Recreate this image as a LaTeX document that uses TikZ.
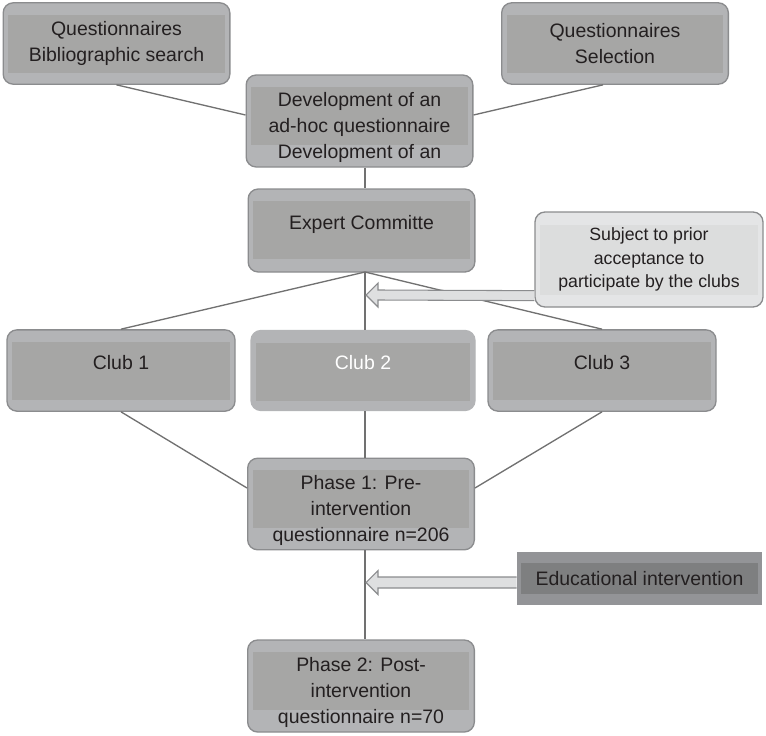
\documentclass[tikz,border=0pt]{standalone}
\usepackage{fontspec}
\setmainfont{Liberation Sans}
\usetikzlibrary{calc}

\definecolor{boxfill}{HTML}{B3B4B6}
\definecolor{bandfill}{HTML}{A6A6A5}
\definecolor{boxedge}{HTML}{8B8C8E}
\definecolor{notefill}{HTML}{E4E5E6}
\definecolor{noteband}{HTML}{DCDDDD}
\definecolor{darkfill}{HTML}{939497}
\definecolor{darkband}{HTML}{7E7F80}
\definecolor{linegray}{HTML}{717171}
\definecolor{textgray}{HTML}{231F20}
\definecolor{arrowfill}{HTML}{DEDFE0}

\newcommand{\lowstrut}{\rule{0pt}{20pt}}

\tikzset{
    banded/.style n args={4}{
        path picture={
            \fill [#1, sharp corners]
                ([xshift=#4,yshift=-#2]path picture bounding box.north west)
                rectangle
                ([xshift=-#4,yshift=-#3]path picture bounding box.north east);
        }
    },
    stage/.style={
        draw=boxedge, line width=1pt, fill=boxfill,
        rounded corners=7.5pt,
        minimum width=170pt, minimum height=61pt,
        align=center, text=textgray,
        font=\fontsize{14.6}{19}\selectfont,
        banded={bandfill}{9pt}{52.5pt}{3.75pt}
    },
    top text/.style={text depth=12pt},
    low text/.style={font=\fontsize{14.6}{19.5}\selectfont},
    note/.style={
        draw=boxedge, line width=1pt, fill=notefill,
        rounded corners=7.5pt,
        minimum width=171pt, minimum height=71.25pt,
        align=center, text=textgray,
        font=\fontsize{13.3}{17.5}\selectfont,
        banded={noteband}{9.75pt}{62.25pt}{3.75pt}
    },
    action/.style={
        fill=darkfill,
        minimum width=183.75pt, minimum height=39.75pt,
        text=textgray,
        font=\fontsize{14.6}{19}\selectfont,
        banded={darkband}{8.25pt}{31.5pt}{3pt}
    },
    link/.style={draw=linegray, line width=1pt},
    fatarrow/.style={draw=boxedge, fill=arrowfill, line width=0.8pt, line join=miter}
}

\begin{document}
\begin{tikzpicture}[x=0.75pt, y=-0.75pt]
    \useasboundingbox
        (0,0) rectangle (766,735)
        ;

    \node [stage] (qbib)
        at (116.5,43.5) {Questionnaires\\Bibliographic search}
        ;
    \node [stage] (qsel)
        at (615,43.5) {Questionnaires\\Selection}
        ;
    \node [stage, low text, minimum height=69pt] (dev)
        at (359.5,121) {\lowstrut Development of an\\ad-hoc questionnaire\\Development of an}
        ;
    \node [stage, top text, minimum height=62.25pt] (expert)
        at (361.5,230.5) {Expert Committe}
        ;
    \node [note] (subject)
        at (649,259.5) {Subject to prior\\acceptance to\\participate by the clubs}
        ;

    \node [stage, top text, minimum width=171pt] (club1)
        at (121,370.5) {Club 1}
        ;
    \node [stage, top text, draw=boxfill, text=white, minimum width=168pt, minimum height=60pt] (club2)
        at (363,370.5) {Club 2}
        ;
    \node [stage, top text, minimum width=171pt] (club3)
        at (602,370.5) {Club 3}
        ;

    \node [stage, low text, minimum height=66.75pt] (phase1)
        at (361,504) {\lowstrut Phase 1: Pre-\\intervention\\questionnaire n=206}
        ;
    \node [action] (educ)
        at (639.5,578.5) {Educational intervention}
        ;
    \node [stage, low text, minimum height=69pt] (phase2)
        at (361,686) {\lowstrut Phase 2: Post-\\intervention\\questionnaire n=70}
        ;

    \coordinate (hub) at (365,272);
    \coordinate (tipA) at (366,295);
    \coordinate (tipB) at (366,582.5);

    \draw [link] (qbib.south) -- ([yshift=4.5pt]dev.west);
    \draw [link] ([xshift=-9pt]qsel.south) -- ([yshift=4.5pt]dev.east);
    \draw [link] (dev.south -| hub) -- (expert.north -| hub);

    \draw [link] (hub) -- (club1.north);
    \draw [link] (hub) -- (club2.north -| hub);
    \draw [link] (hub) -- (club3.north);

    \draw [link] (club1.south) -- ([yshift=12pt]phase1.west);
    \draw [link] (club2.south -| hub) -- (phase1.north -| hub);
    \draw [link] (club3.south) -- ([yshift=12pt]phase1.east);
    \draw [link] (phase1.south -| hub) -- (phase2.north -| hub);

    \draw [fatarrow]
        ($(subject.south west)+(0,-17)$) -- ($(tipA)+(12,-5)$)
        -- ($(tipA)+(12,-12)$) -- (tipA) -- ($(tipA)+(12,12)$)
        -- ($(tipA)+(12,5)$) -- ($(subject.south west)+(0,-7)$)
        ;
    \draw [fatarrow]
        ($(educ.west)+(0,-1.5)$) -- ($(tipB)+(12,-5.5)$)
        -- ($(tipB)+(12,-12)$) -- (tipB) -- ($(tipB)+(12,12)$)
        -- ($(tipB)+(12,5.5)$) -- ($(educ.west)+(0,9.5)$)
        ;
\end{tikzpicture}
\end{document}
